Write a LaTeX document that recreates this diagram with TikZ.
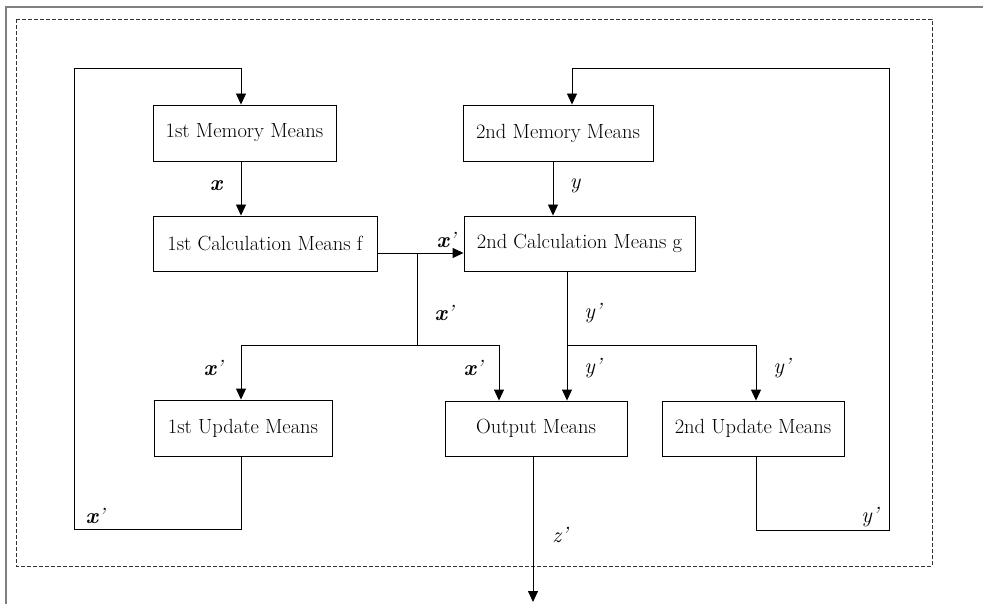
\documentclass[tikz,border=0pt]{standalone}
\usetikzlibrary{arrows.meta,calc}
\begin{document}
\begin{tikzpicture}[x=1pt,y=-1pt,
  box/.style={draw=black,line width=0.9pt,inner sep=0pt,font=\fontsize{20.5}{23}\selectfont},
  arr/.style={draw=black,line width=0.9pt,-{Triangle[length=11pt,width=10pt]}},
  ln/.style={draw=black,line width=0.9pt},
  lbl/.style={font=\fontsize{22}{24}\selectfont\itshape,inner sep=0pt}]
\useasboundingbox (0,0) rectangle (983,604);
% page frame
\draw[gray,line width=1.2pt] (983,7) -- (6,7) -- (6,604);
% dashed frame
\draw[black!80,line width=0.8pt,dash pattern=on 4pt off 2pt] (16,19) rectangle (932,566);
% boxes
\node[box,minimum width=183pt,minimum height=56pt] (m1) at (244.5,133) {1st Memory Means};
\node[box,minimum width=224pt,minimum height=55pt] (c1) at (265,243.5) {1st Calculation Means f};
\node[box,minimum width=190pt,minimum height=56pt] (m2) at (558,133) {2nd Memory Means};
\node[box,minimum width=231pt,minimum height=55pt] (c2) at (579.5,243.5) {2nd Calculation Means g};
\node[box,minimum width=178pt,minimum height=56pt] (u1) at (243,428) {1st Update Means};
\node[box,minimum width=182pt,minimum height=55pt] (o) at (536,428.5) {Output Means};
\node[box,minimum width=182pt,minimum height=55pt] (u2) at (753,428.5) {2nd Update Means};
% helper coordinates
\coordinate (xa) at (241,0);
\coordinate (ya) at (553,0);
\coordinate (yl) at (572,0);
\coordinate (jx) at (417,253);
\coordinate (hx) at (0,345);
\coordinate (xo) at (499,0);
\coordinate (yc) at (567,0);
\coordinate (yu) at (756,0);
\coordinate (zo) at (533,0);
\coordinate (zend) at (533,602);
\coordinate (lb1) at (74,529);
\coordinate (tp) at (0,68);
\coordinate (rb2) at (889,530);
% arrows
\draw[arr] (m1.south -| xa) -- (c1.north -| xa);
\draw[arr] (m2.south -| ya) -- (c2.north -| ya);
\draw[arr] (c1.east |- jx) -- (c2.west |- jx);
\draw[ln] (jx) -- (jx |- hx);
\draw[arr] (jx |- hx) -| (u1.north -| xa);
\draw[arr] (jx |- hx) -| (o.north -| xo);
\draw[arr] (c2.south -| yc) -- (o.north -| yc);
\draw[arr] (yc |- hx) -| (u2.north -| yu);
\draw[arr] (o.south -| zo) -- (zend);
% feedback loops
\draw[arr] (u1.south -| xa) |- (lb1) |- (tp -| xa) -- (m1.north -| xa);
\draw[arr] (u2.south -| yu) |- (rb2) |- (tp -| yl) -- (m2.north -| yl);
% labels
\node[lbl,font=\fontsize{22}{24}\selectfont\bfseries\itshape] (lx) at (216,186) {x};
\node[lbl] (ly) at (575,186) {y};
\node[lbl] (lx1) at (446,240) {\textbf{x}’};
\node[lbl] (lx2) at (444,313) {\textbf{x}’};
\node[lbl] (lx3) at (213,368) {\textbf{x}’};
\node[lbl] (lx4) at (473,368) {\textbf{x}’};
\node[lbl] (lx5) at (95,516) {\textbf{x}’};
\node[lbl] (ly1) at (593,313) {y’};
\node[lbl] (ly2) at (593,368) {y’};
\node[lbl] (ly3) at (782,368) {y’};
\node[lbl] (ly4) at (870,517) {y’};
\node[lbl] (lz) at (560,535) {z’};
\end{tikzpicture}
\end{document}
